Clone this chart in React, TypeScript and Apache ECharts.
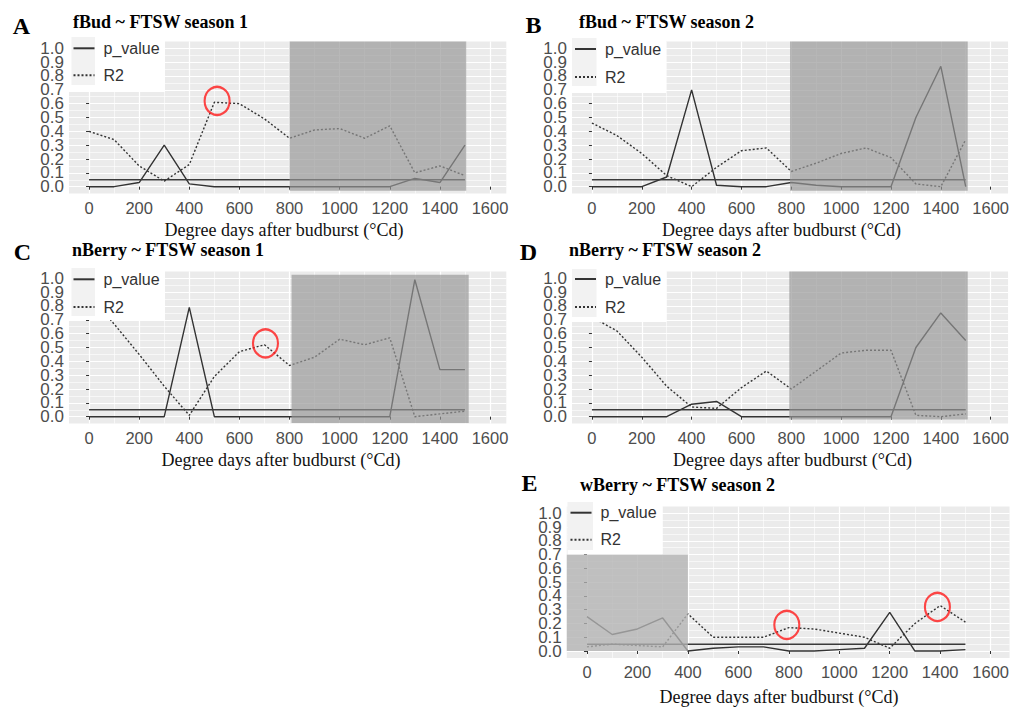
import React, { useEffect, useRef } from 'react';
import * as echarts from 'echarts';

// ---------------- data ----------------
const degreeDays = [0, 100, 200, 300, 400, 500, 600, 700, 800, 900, 1000, 1100, 1200, 1300, 1400, 1500];
const xTickValues = [0, 200, 400, 600, 800, 1000, 1200, 1400, 1600];
const xMinorValues = [100, 300, 500, 700, 900, 1100, 1300, 1500];
const yTickValues = [0, 0.1, 0.2, 0.3, 0.4, 0.5, 0.6, 0.7, 0.8, 0.9, 1.0];
const yMinorValues = [0.05, 0.15, 0.25, 0.35, 0.45, 0.55, 0.65, 0.75, 0.85, 0.95];
const pThreshold = 0.05;
const thresholdSpan = [0, 1500];

// A: fBud ~ FTSW season 1
const pValueA = [0, 0, 0.03, 0.30, 0.02, 0, 0, 0, 0, 0, 0, 0, 0, 0.06, 0.03, 0.30];
const r2A = [0.40, 0.34, 0.15, 0.04, 0.16, 0.61, 0.60, 0.49, 0.35, 0.41, 0.42, 0.35, 0.44, 0.10, 0.15, 0.08];
const shadeA = [800, -0.03, 1505, 1.05];
const circlesA = [[511, 0.62]];

// B: fBud ~ FTSW season 2
const pValueB = [0, 0, 0, 0.07, 0.70, 0.01, 0, 0, 0.03, 0.01, 0, 0, 0, 0.50, 0.87, 0];
const r2B = [0.46, 0.37, 0.24, 0.08, 0.0, 0.14, 0.26, 0.28, 0.11, 0.17, 0.24, 0.28, 0.21, 0.02, 0.0, 0.34];
const shadeB = [795, -0.03, 1508, 1.05];
const circlesB: number[][] = [];

// C: nBerry ~ FTSW season 1
const pValueC = [0, 0, 0, 0, 0.79, 0, 0, 0, 0, 0, 0, 0, 0, 0.99, 0.34, 0.34];
const r2C = [0.88, 0.67, 0.45, 0.22, 0.01, 0.29, 0.47, 0.52, 0.37, 0.43, 0.56, 0.52, 0.57, 0.0, 0.02, 0.04];
const shadeC = [808, -0.045, 1515, 1.025];
const circlesC = [[704, 0.53]];

// D: nBerry ~ FTSW season 2
const pValueD = [0, 0, 0, 0, 0.09, 0.11, 0, 0, 0, 0, 0, 0, 0, 0.50, 0.75, 0.55];
const r2D = [0.72, 0.62, 0.43, 0.22, 0.07, 0.06, 0.21, 0.33, 0.20, 0.33, 0.46, 0.48, 0.48, 0.01, 0.0, 0.02];
const shadeD = [792, -0.02, 1508, 1.05];
const circlesD: number[][] = [];

// E: wBerry ~ FTSW season 2
const pValueE = [0.25, 0.12, 0.16, 0.24, 0.0, 0.02, 0.03, 0.03, 0.0, 0.0, 0.01, 0.02, 0.28, 0.0, 0.0, 0.01];
const r2E = [0.03, 0.05, 0.04, 0.03, 0.27, 0.10, 0.10, 0.10, 0.17, 0.16, 0.13, 0.10, 0.02, 0.20, 0.33, 0.21];
const shadeE = [-80, 0, 400, 0.7];
const circlesE = [[792, 0.19], [1389, 0.32]];

// ---------------- layout ----------------
type Layout = {
  left: number; top: number; width: number; height: number; xMax: number;
  letter: [number, number]; title: [number, number]; xTitle: [number, number];
  box: [number, number, number, number]; keyBox: [number, number, number, number];
  legendLeft: number; legendTop: number; legendGap: number;
  shadeColor: string;
};

const layoutA: Layout = {
  left: 69, top: 41.4, width: 437.3, height: 152.2, xMax: 1665,
  letter: [21.5, 25.5], title: [73, 22], xTitle: [284, 230],
  box: [68, 35, 97, 57], keyBox: [71.5, 37, 23.5, 48],
  legendLeft: 72.5, legendTop: 40.3, legendGap: 11, shadeColor: 'rgba(150,150,150,0.68)',
};
const layoutB: Layout = {
  left: 572, top: 41.4, width: 438.6, height: 152.2, xMax: 1670,
  letter: [533.5, 24.5], title: [579, 22], xTitle: [781.5, 230],
  box: [572, 37, 94, 56], keyBox: [572, 38, 24.5, 48],
  legendLeft: 574, legendTop: 41, legendGap: 12, shadeColor: 'rgba(150,150,150,0.68)',
};
const layoutC: Layout = {
  left: 69, top: 271.4, width: 437.3, height: 152.2, xMax: 1665,
  letter: [22.5, 251.5], title: [72, 250], xTitle: [281, 460],
  box: [68, 267, 97, 53], keyBox: [71.5, 268, 23.5, 48],
  legendLeft: 72.5, legendTop: 271.3, legendGap: 11.7, shadeColor: 'rgba(150,150,150,0.68)',
};
const layoutD: Layout = {
  left: 572, top: 271.4, width: 438.6, height: 152.2, xMax: 1670,
  letter: [528.5, 251.5], title: [569, 250], xTitle: [792.5, 460],
  box: [572, 268, 94.5, 54], keyBox: [572, 269, 24.5, 48],
  legendLeft: 574, legendTop: 271, legendGap: 12, shadeColor: 'rgba(150,150,150,0.68)',
};
const layoutE: Layout = {
  left: 566.8, top: 506.4, width: 443, height: 151.5, xMax: 1675,
  letter: [529.5, 482.5], title: [580, 485], xTitle: [779, 697],
  box: [567.5, 501.7, 95, 52.5], keyBox: [567.5, 502, 25.5, 48],
  legendLeft: 569.5, legendTop: 504.7, legendGap: 11, shadeColor: 'rgba(178,178,178,0.78)',
};

const panels = [
  { letter: 'A', title: 'fBud ~ FTSW season 1', p: pValueA, r: r2A, shade: shadeA, circles: circlesA, L: layoutA },
  { letter: 'B', title: 'fBud ~ FTSW season 2', p: pValueB, r: r2B, shade: shadeB, circles: circlesB, L: layoutB },
  { letter: 'C', title: 'nBerry ~ FTSW season 1', p: pValueC, r: r2C, shade: shadeC, circles: circlesC, L: layoutC },
  { letter: 'D', title: 'nBerry ~ FTSW season 2', p: pValueD, r: r2D, shade: shadeD, circles: circlesD, L: layoutD },
  { letter: 'E', title: 'wBerry ~ FTSW season 2', p: pValueE, r: r2E, shade: shadeE, circles: circlesE, L: layoutE },
];

const xTitleText = 'Degree days after budburst (°Cd)';
const LINE = '#333333';
const TICK_TEXT = '#4d4d4d';
const SANS = '"Liberation Sans", Arial, sans-serif';
const SERIF = '"Liberation Serif", "Times New Roman", serif';

// y labels are split over two axes so ECharts does not drop overlapping neighbours
const yLabelsEven = yTickValues.filter((_, k) => k % 2 === 0);
const yLabelsOdd = yTickValues.filter((_, k) => k % 2 === 1);

function buildOption() {
  const grid: any[] = [];
  const xAxis: any[] = [];
  const yAxis: any[] = [];
  const series: any[] = [];
  const legend: any[] = [];
  const graphic: any[] = [];

  const yLabelStyle = {
    color: TICK_TEXT, fontSize: 17, fontFamily: SANS, margin: 5,
    showMinLabel: true, showMaxLabel: true, hideOverlap: false,
    formatter: (v: number) => v.toFixed(1),
  };

  panels.forEach((pn, i) => {
    const L = pn.L;
    grid.push({
      left: L.left, top: L.top, width: L.width, height: L.height,
      show: true, backgroundColor: '#ebebeb', borderWidth: 0,
    });
    const xi = xAxis.length;
    xAxis.push({
      type: 'value', gridIndex: i, min: -80, max: L.xMax, position: 'bottom',
      axisLine: { show: false },
      axisTick: { show: true, length: 3, lineStyle: { color: LINE, width: 1 }, customValues: xTickValues },
      axisLabel: {
        customValues: xTickValues, color: TICK_TEXT, fontSize: 16.5, fontFamily: SANS, margin: 6,
        showMinLabel: true, showMaxLabel: true, hideOverlap: false,
        formatter: (v: number) => String(v),
      },
      splitLine: { show: true, lineStyle: { color: '#ffffff', width: 1.2 } },
    });
    xAxis.push({
      type: 'value', gridIndex: i, min: -80, max: L.xMax, position: 'top',
      axisLine: { show: false },
      axisTick: { show: false, customValues: xMinorValues },
      axisLabel: { show: false },
      splitLine: { show: true, lineStyle: { color: '#ffffff', width: 0.6 } },
    });
    const yi = yAxis.length;
    yAxis.push({
      type: 'value', gridIndex: i, min: -0.05, max: 1.05, position: 'left',
      axisLine: { show: false },
      axisTick: { show: true, length: 3, lineStyle: { color: LINE, width: 1 }, customValues: yTickValues },
      axisLabel: { ...yLabelStyle, customValues: yLabelsEven },
      splitLine: { show: true, lineStyle: { color: '#ffffff', width: 1.2 } },
    });
    yAxis.push({
      type: 'value', gridIndex: i, min: -0.05, max: 1.05, position: 'left', offset: 0,
      axisLine: { show: false },
      axisTick: { show: false, customValues: yLabelsOdd },
      axisLabel: { ...yLabelStyle, customValues: yLabelsOdd },
      splitLine: { show: false },
    });
    yAxis.push({
      type: 'value', gridIndex: i, min: -0.05, max: 1.05, position: 'right',
      axisLine: { show: false },
      axisTick: { show: false, customValues: yMinorValues },
      axisLabel: { show: false },
      splitLine: { show: true, lineStyle: { color: '#ffffff', width: 0.6 } },
    });

    series.push({
      name: 'p_value', type: 'line', xAxisIndex: xi, yAxisIndex: yi, symbol: 'none', z: 2,
      data: degreeDays.map((d, k) => [d, pn.p[k]]),
      lineStyle: { color: LINE, width: 1.4 }, itemStyle: { color: LINE },
    });
    series.push({
      name: 'R2', type: 'line', xAxisIndex: xi, yAxisIndex: yi, symbol: 'none', z: 2,
      data: degreeDays.map((d, k) => [d, pn.r[k]]),
      lineStyle: { color: LINE, width: 1.4, type: [2, 2] }, itemStyle: { color: LINE },
    });
    series.push({
      name: 'threshold', type: 'line', xAxisIndex: xi, yAxisIndex: yi, symbol: 'none', z: 2,
      data: thresholdSpan.map((d) => [d, pThreshold]),
      lineStyle: { color: '#3a3a3a', width: 1.5 }, itemStyle: { color: LINE }, silent: true,
    });
    const shadeColor = L.shadeColor;
    series.push({
      name: 'shade', type: 'custom', xAxisIndex: xi, yAxisIndex: yi, z: 3, silent: true,
      data: [pn.shade],
      renderItem: (params: any, api: any) => {
        const p0 = api.coord([api.value(0), api.value(3)]);
        const p1 = api.coord([api.value(2), api.value(1)]);
        return {
          type: 'rect',
          shape: { x: p0[0], y: p0[1], width: p1[0] - p0[0], height: p1[1] - p0[1] },
          style: { fill: shadeColor },
        };
      },
    });
    if (pn.circles.length) {
      series.push({
        name: 'highlight', type: 'scatter', xAxisIndex: xi, yAxisIndex: yi, z: 4, silent: true,
        data: pn.circles, symbol: 'circle', symbolSize: [25, 28],
        itemStyle: { color: 'rgba(0,0,0,0)', borderColor: '#ff1a1a', borderWidth: 2.2 },
      });
    }

    legend.push({
      data: ['p_value', 'R2'], orient: 'vertical', left: L.legendLeft, top: L.legendTop,
      itemWidth: 21, itemHeight: 14, itemGap: L.legendGap, selectedMode: false, z: 60, padding: 0,
      itemStyle: { opacity: 0 },
      textStyle: { fontSize: 16, color: '#333333', fontFamily: SANS, padding: [0, 0, 0, 4] },
    });

    graphic.push({
      type: 'rect', z: 50, silent: true,
      shape: { x: L.box[0], y: L.box[1], width: L.box[2], height: L.box[3] },
      style: { fill: '#ffffff' },
    });
    graphic.push({
      type: 'rect', z: 51, silent: true,
      shape: { x: L.keyBox[0], y: L.keyBox[1], width: L.keyBox[2], height: L.keyBox[3] },
      style: { fill: '#f2f2f2' },
    });
    graphic.push({
      type: 'text', z: 52, x: L.letter[0], y: L.letter[1],
      style: { text: pn.letter, font: `bold 24px ${SERIF}`, fill: '#000', textAlign: 'center', textVerticalAlign: 'middle' },
    });
    graphic.push({
      type: 'text', z: 52, x: L.title[0], y: L.title[1],
      style: { text: pn.title, font: `bold 18px ${SERIF}`, fill: '#000', textAlign: 'left', textVerticalAlign: 'middle' },
    });
    graphic.push({
      type: 'text', z: 52, x: L.xTitle[0], y: L.xTitle[1],
      style: { text: xTitleText, font: `18px ${SERIF}`, fill: '#111', textAlign: 'center', textVerticalAlign: 'middle' },
    });
  });

  return { animation: false, backgroundColor: '#ffffff', grid, xAxis, yAxis, series, legend, graphic };
}

export default function App() {
  const ref = useRef<HTMLDivElement>(null);
  useEffect(() => {
    if (!ref.current) return;
    const chart = echarts.init(ref.current, undefined, { renderer: 'svg' });
    chart.setOption(buildOption() as any);
    return () => chart.dispose();
  }, []);
  return (
    <div
      ref={ref}
      style={{ position: 'absolute', left: 0, top: 0, width: 1012, height: 708 }}
    />
  );
}
